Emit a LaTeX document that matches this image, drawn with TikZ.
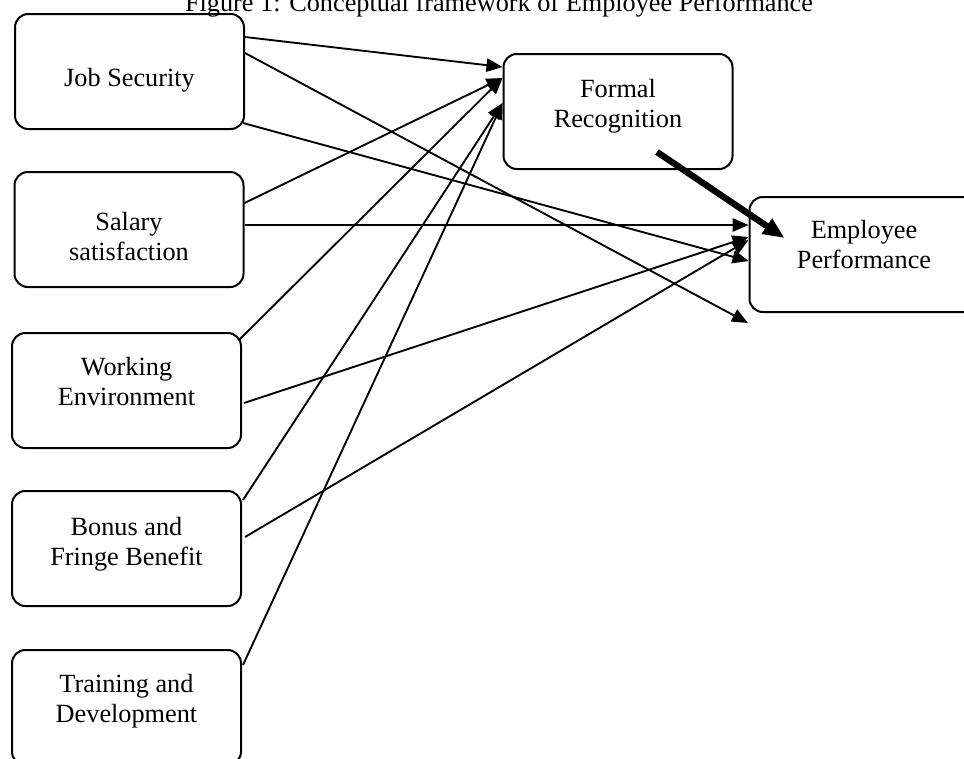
\documentclass[tikz,border=0pt]{standalone}
\usepackage{fontspec}
\setmainfont{Liberation Serif}
\usetikzlibrary{arrows.meta, calc}

\begin{document}
\begin{tikzpicture}[x=0.75pt, y=-0.75pt,
  factor/.style={draw, line width=1.5pt, rounded corners=10pt, minimum width=171.75pt, minimum height=86.25pt, inner sep=0pt},
  caption/.style={align=center, inner sep=0pt, font=\fontsize{19.7}{22.5}\selectfont},
  link/.style={-{Triangle[length=12pt, width=10pt]}, line width=1.4pt},
  boldlink/.style={-{Triangle[length=16pt, width=13pt]}, line width=4.8pt}]
  \useasboundingbox (0,0) rectangle (964,758);
  \node[caption, anchor=base] (title) at (499,11) {Figure 1: Conceptual framework of Employee Performance};
  % independent variables
  \node[factor, label={[caption, name=jobsec-l, yshift=-6.75pt]center:Job Security}] (jobsec) at (129.5,71.5) {};
  \node[factor, label={[caption, name=salary-l, yshift=-5.25pt]center:{Salary\\satisfaction}}] (salary) at (129,229.5) {};
  \node[factor, label={[caption, name=workenv-l, yshift=6.75pt]center:{Working\\Environment}}] (workenv) at (126.5,390.5) {};
  \node[factor, label={[caption, name=bonus-l, yshift=3pt]center:{Bonus and\\Fringe Benefit}}] (bonus) at (126.5,548.5) {};
  \node[factor, label={[caption, name=training-l, yshift=4.5pt]center:{Training and\\Development}}] (training) at (126.5,707.5) {};
  % mediator and outcome
  \node[factor, label={[caption, name=formal-l, yshift=3.75pt]center:{Formal\\Recognition}}] (formal) at (618,111.5) {};
  \node[factor, label={[caption, name=employee-l, yshift=7.5pt]center:{Employee\\Performance}}] (employee) at (864,254.5) {};
  \coordinate (jsend) at (748,323);
  % links to Formal Recognition
  \draw[link] ($(jobsec.east)+(0,-34.5)$) -- ($(formal.west)+(0,-44.5)$);
  \draw[link] ($(salary.east)+(0,-26.5)$) -- ($(formal.west)+(0,-33.5)$);
  \draw[link] ($(workenv.east)+(-3,-50.5)$) -- ($(formal.west)+(0,-33.5)$);
  \draw[link] ($(bonus.east)+(1,-48.5)$) -- ($(formal.west)+(0,-8.5)$);
  \draw[link] ($(training.east)+(1,-42.5)$) -- ($(formal.west)+(0,-8.5)$);
  % links to Employee Performance
  \draw[link] ($(jobsec.east)+(0,-18.5)$) -- (jsend);
  \draw[link] ($(jobsec.east)+(-2,51.5)$) -- ($(employee.west)+(0,6.5)$);
  \draw[link] ($(salary.east)+(0,-4.5)$) -- ($(employee.west)+(0,-29.5)$);
  \draw[link] ($(workenv.east)+(2,12.5)$) -- ($(employee.west)+(0,-17.5)$);
  \draw[link] ($(bonus.east)+(3,-11.5)$) -- ($(employee.west)+(0,-14.5)$);
  \draw[boldlink] ($(formal.center)+(39,40.5)$) -- ($(employee.west)+(36,-16.5)$);
\end{tikzpicture}
\end{document}
